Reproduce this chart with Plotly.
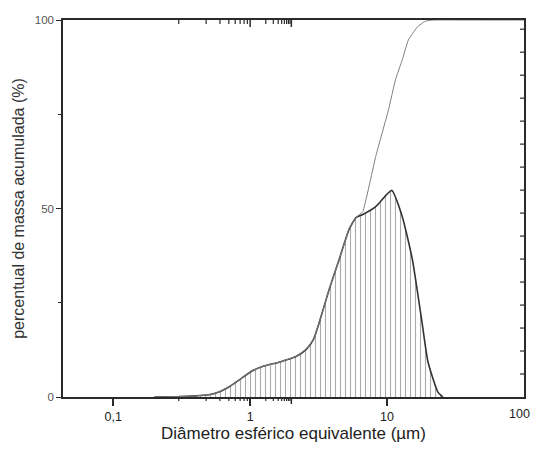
import numpy as np
import plotly.graph_objects as go

# Particle size distribution (sedigraph style)
# diameter in micrometres
diam_dist = [0.2, 0.3, 0.4, 0.5, 0.55, 0.68, 0.81, 1.03, 1.26, 1.65, 2.18, 2.58, 2.90, 3.20,
             3.78, 4.47, 5.27, 5.93, 6.65, 8.26, 10.8, 12.9, 15.3, 18.0, 19.9, 23.5, 25.6]
freq_dist = [0.0, 0.1, 0.3, 0.6, 0.9, 2.4, 4.2, 6.9, 8.2, 9.3, 10.8, 12.7, 15.3, 19.8,
             28.6, 36.5, 44.4, 47.6, 48.4, 50.5, 54.8, 47.9, 36.5, 19.8, 9.3, 1.3, 0.0]

# cumulative mass curve
diam_cum = [0.2, 0.3, 0.4, 0.5, 0.55, 0.68, 0.81, 1.03, 1.26, 1.65, 2.18, 2.58, 2.90, 3.20,
            3.78, 4.47, 5.27, 5.93, 6.65, 8.26, 10.25, 11.5, 12.9, 14.3, 16.6, 19.0, 22.0, 40.0, 100.0]
mass_cum = [0.0, 0.1, 0.3, 0.6, 0.9, 2.4, 4.2, 6.9, 8.2, 9.3, 10.8, 12.7, 15.3, 19.8,
            28.6, 36.5, 44.4, 47.6, 49.2, 63.8, 76.2, 84.1, 89.4, 94.7, 98.1, 99.7, 100.0, 100.0, 100.0]

x_major = [0.1, 1, 10, 100]
x_labels = ["0,1", "1", "10", "100"]
x_minor = [m * 10.0 ** e for e in range(-2, 2) for m in range(2, 10)]

# right-hand frequency scale: 16.4 units over the full height, a tick per unit
right_scale = 16.4
right_ticks = [k * 100.0 / right_scale for k in range(1, 17)]

x_range = [np.log10(0.043), 2.0]

axis_col = "#2a2a2a"
font_main = "Liberation Sans, Arial, sans-serif"

fig = go.Figure()

fig.add_trace(go.Scatter(
    x=diam_dist, y=freq_dist, mode="lines",
    line=dict(color="#333333", width=1.6, shape="spline", smoothing=0.5),
    fill="tozeroy", fillcolor="rgba(0,0,0,0)",
    fillpattern=dict(shape="|", fgcolor="#555555", bgcolor="white", size=5, solidity=0.22),
    hoverinfo="skip", showlegend=False,
))

fig.add_trace(go.Scatter(
    x=diam_cum, y=mass_cum, mode="lines",
    line=dict(color="#808080", width=1.0, shape="spline", smoothing=0.3),
    hoverinfo="skip", showlegend=False,
))


def frame_tick(xval, edge, length, width):
    """Tick on the bottom (edge=0, pointing out) or top (edge=1, pointing in) frame line."""
    return dict(type="line", xref="x", x0=np.log10(xval), x1=np.log10(xval),
                yref="paper", ysizemode="pixel", yanchor=edge, y0=-length, y1=0,
                line=dict(color=axis_col, width=width), layer="above")


tick_shapes = []
for v in x_major:
    tick_shapes.append(frame_tick(v, 0, 7, 1.5))
    tick_shapes.append(frame_tick(v, 1, 7, 1.5))
for v in x_minor:
    if x_range[0] <= np.log10(v) <= x_range[1]:
        tick_shapes.append(frame_tick(v, 0, 4, 1.2))
        tick_shapes.append(frame_tick(v, 1, 4, 1.2))

# inward ticks on the right frame edge
for v in right_ticks:
    tick_shapes.append(dict(type="line", xref="paper", xsizemode="pixel", xanchor=1, x0=-4, x1=0,
                            yref="y", y0=v, y1=v, line=dict(color=axis_col, width=1.2),
                            layer="above"))

fig.update_layout(
    width=535, height=449,
    margin=dict(l=63, r=9, t=20, b=52),
    paper_bgcolor="white", plot_bgcolor="white",
    showlegend=False,
    font=dict(family=font_main, color="#333333"),
    xaxis=dict(
        type="log", range=x_range, tickvals=x_major[:3], ticktext=x_labels[:3],
        showgrid=False, zeroline=False,
        showline=True, mirror=True, linecolor=axis_col, linewidth=1.5,
        ticks="outside", ticklen=7, tickwidth=1.5, tickcolor=axis_col,
        tickfont=dict(size=12.5, color="#222222"),
        title=dict(text="Diâmetro esférico equivalente (µm)", font=dict(size=17, color="#222222"), standoff=4),
    ),
    yaxis=dict(
        range=[0, 100], tickvals=[0, 50, 100],
        showgrid=False, zeroline=False,
        showline=True, mirror=True, linecolor=axis_col, linewidth=1.5,
        ticks="outside", ticklen=5, tickwidth=1.2, tickcolor=axis_col,
        minor=dict(tickvals=[25, 75], ticks="outside", ticklen=3, tickwidth=1, tickcolor=axis_col),
        tickfont=dict(size=11.5, color="#555555"),
        title=dict(text="percentual de massa acumulada (%)", font=dict(size=16, color="#333333"), standoff=6),
    ),
    shapes=tick_shapes,
    annotations=[dict(
        x=np.log10(x_major[3]), xref="x", y=0, yref="paper", yanchor="top", yshift=-8,
        xanchor="right", xshift=8,
        text=x_labels[3], showarrow=False, font=dict(size=12.5, color="#222222"),
    )],
)

fig.write_html("out.html")
